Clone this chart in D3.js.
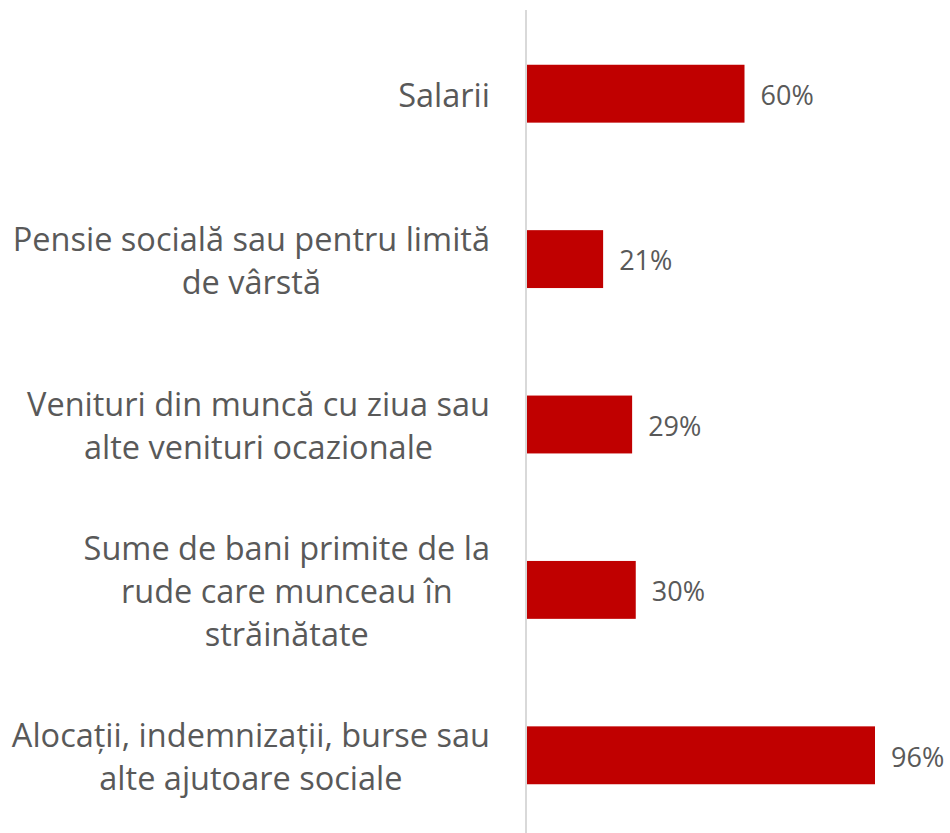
<!DOCTYPE html>
<html>
<head>
<meta charset="utf-8">
<script src="https://cdn.jsdelivr.net/npm/d3@7"></script>
<style>
  body { margin: 0; background: #fff; }
  svg { display: block; }
</style>
</head>
<body>
<svg id="chart" width="950" height="833"></svg>
<script>
// categories, each one already split in lines as in the original
var categories = [
  ["Salarii"],
  ["Pensie socială sau pentru limită", "de vârstă"],
  ["Venituri din muncă cu ziua sau", "alte venituri ocazionale"],
  ["Sume de bani primite de la", "rude care munceau în", "străinătate"],
  ["Alocații, indemnizații, burse sau", "alte ajutoare sociale"]
];
var values = [60, 21, 29, 30, 96];

var svg = d3.select("#chart");
var axisX = 527;
var labelRight = 490;

var xScale = d3.scaleLinear().domain([0, 100]).range([axisX, axisX + 362.5]);
var yScale = d3.scaleBand().domain(d3.range(values.length)).range([11, 838]).paddingInner(0.65).paddingOuter(0.325);

// bars
svg.selectAll("rect.bar")
  .data(values)
  .enter()
  .append("rect")
  .attr("class", "bar")
  .attr("x", xScale(0))
  .attr("y", (d, i) => yScale(i))
  .attr("width", d => xScale(d) - xScale(0))
  .attr("height", yScale.bandwidth())
  .attr("fill", "#c00000");

// vertical axis line
svg.append("line")
  .attr("x1", axisX - 1).attr("x2", axisX - 1)
  .attr("y1", 10).attr("y2", 833)
  .attr("stroke", "#d9d9d9")
  .attr("stroke-width", 2);

// value labels
svg.selectAll("text.val")
  .data(values)
  .enter()
  .append("text")
  .attr("class", "val")
  .attr("x", d => xScale(d) + 16)
  .attr("y", (d, i) => yScale(i) + yScale.bandwidth() / 2)
  .attr("dy", "0.42em")
  .attr("font-family", "Open Sans, sans-serif")
  .attr("font-size", 27)
  .attr("fill", "#595959")
  .text(d => d + "%");

// category labels: lines centered in a block that is right aligned
var lineH = 43;
categories.forEach(function (lines, i) {
  var g = svg.append("g");
  var cy = yScale(i) + yScale.bandwidth() / 2;
  var texts = lines.map(function (l, j) {
    return g.append("text")
      .attr("y", cy + (j - (lines.length - 1) / 2) * lineH)
      .attr("dy", "0.4em")
      .attr("font-family", "Open Sans, sans-serif")
      .attr("font-size", 32.5)
      .attr("fill", "#595959")
      .attr("text-anchor", "middle")
      .text(l);
  });
  var w = d3.max(texts, t => t.node().getComputedTextLength());
  texts.forEach(t => t.attr("x", labelRight - w / 2));
});
</script>
</body>
</html>
